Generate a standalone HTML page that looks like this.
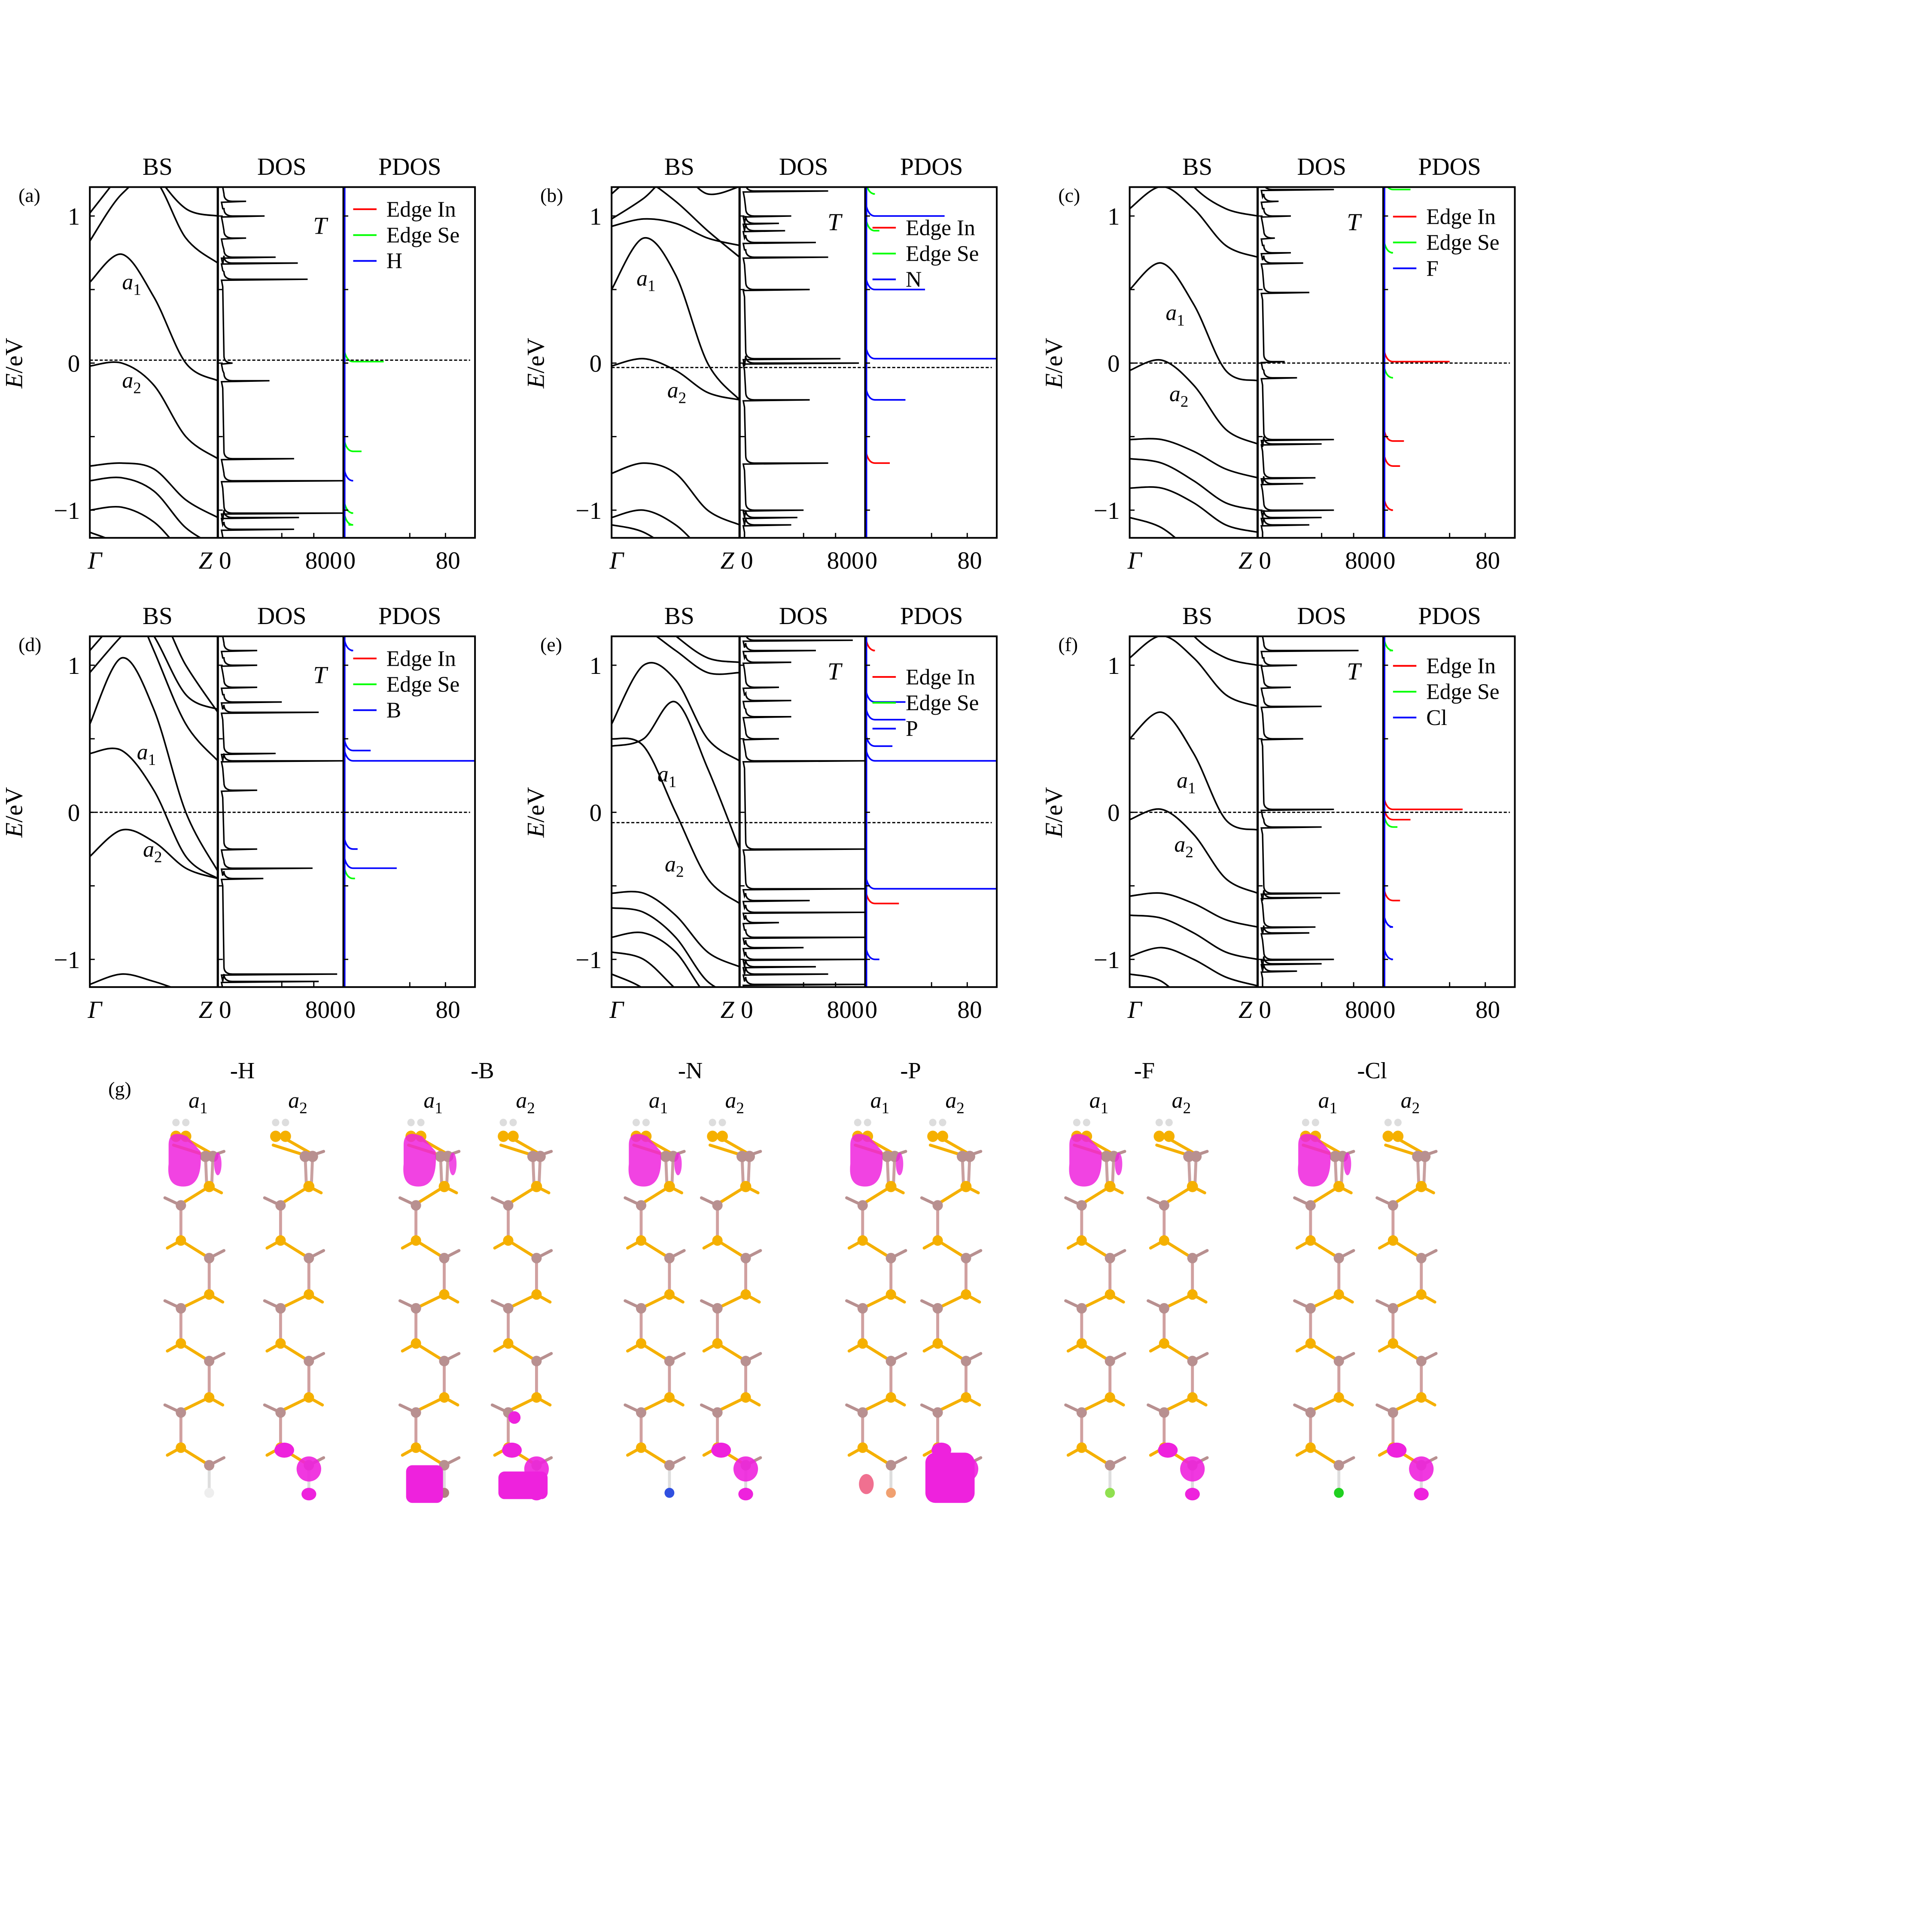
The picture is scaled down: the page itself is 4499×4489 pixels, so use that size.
<!DOCTYPE html>
<html><head><meta charset="utf-8"><style>
html,body{margin:0;padding:0;background:#fff;}
svg{display:block;}
text{font-family:"Liberation Serif",serif;}
</style></head><body>
<svg id="s" xmlns="http://www.w3.org/2000/svg" width="4499" height="4489" viewBox="0 0 1570 1566.5">
<rect width="1570" height="1566.5" fill="#fff"/>
</svg>
<script>
const S=document.getElementById('s');const NS='http://www.w3.org/2000/svg';
let PAR=S;
function el(t,a,txt){const e=document.createElementNS(NS,t);for(const k in a)e.setAttribute(k,a[k]);if(txt!==undefined)e.textContent=txt;PAR.appendChild(e);return e;}
function txt(x,y,s,sz,o){o=o||{};const a={x:x,y:y,'font-size':sz,fill:'#000','text-anchor':o.a||'middle'};if(o.it)a['font-style']='italic';if(o.tr)a.transform=o.tr;return el('text',a,s);}
function sub(x,y,b,n,sz){const t=el('text',{x:x,y:y,'font-size':sz,'text-anchor':'middle','font-style':'italic'});t.textContent=b;const ts=document.createElementNS(NS,'tspan');ts.setAttribute('font-style','normal');ts.setAttribute('font-size',sz*0.72);ts.setAttribute('dy',sz*0.25);ts.textContent=n;t.appendChild(ts);}
function cr(pts){let d='M'+pts[0][0]+','+pts[0][1];for(let i=0;i<pts.length-1;i++){const p0=pts[Math.max(0,i-1)],p1=pts[i],p2=pts[i+1],p3=pts[Math.min(pts.length-1,i+2)];const c1=[p1[0]+(p2[0]-p0[0])/6,p1[1]+(p2[1]-p0[1])/6],c2=[p2[0]-(p3[0]-p1[0])/6,p2[1]-(p3[1]-p1[1])/6];d+=`C${c1[0]},${c1[1]} ${c2[0]},${c2[1]} ${p2[0]},${p2[1]}`;}return d;}
const P=[
{x:73,y:152,lab:'(a)',X:'H',T:[260,190],leg:170,ef:0.02,
 bands:[[1.02,1.3,1.6,1.6,1.6],[0.83,1.15,1.25,0.85,0.68],[1.7,1.6,1.3,1.05,1.0],[0.55,0.74,0.45,0.0,-0.12],[-0.02,0.0,-0.15,-0.5,-0.65],[-0.7,-0.68,-0.72,-0.93,-1.05],[-0.8,-0.78,-0.87,-1.12,-1.25],[-1.0,-0.98,-1.08,-1.3,-1.4],[-1.15,-1.25,-1.5,-1.6,-1.6]],
 a1:[107,235],a2:[107,315],
 dos:[[1.1,.21],[1.0,.36],[.85,.21],[.72,.45],[.68,.63],[.57,.71],[0,.1],[-.12,.4],[-.65,.6],[-.8,1.0],[-1.02,1.0],[-1.05,.64],[-1.13,.6]],
 pd:[['#0f0',0.01,.3],['#0f0',-.6,.13],['#00f',-.8,.06],['#0f0',-1.02,.05],['#0f0',-1.1,.03]]},
{x:497,y:152,lab:'(b)',X:'N',T:[678,187],leg:185,ef:-0.03,
 bands:[[1.15,1.35,1.6,1.6,1.6],[0.98,1.12,1.3,1.15,1.2],[0.93,0.98,0.95,0.85,0.8],[1.3,1.25,1.1,0.9,0.72],[0.5,0.85,0.6,0.0,-0.25],[-0.02,0.03,-0.05,-0.2,-0.25],[-0.75,-0.68,-0.75,-1.0,-1.1],[-1.05,-1.0,-1.1,-1.3,-1.4],[-1.1,-1.15,-1.3,-1.5,-1.6]],
 a1:[525,232],a2:[550,323],
 dos:[[1.17,.7],[1.0,.4],[.95,.3],[.9,.35],[.82,.6],[.72,.7],[.5,.55],[0.03,.8],[0,.95],[-.25,.55],[-.68,.7],[-1.0,.5],[-1.05,.45],[-1.1,.4]],
 pd:[['#00f',1.0,.6],['#00f',.5,.45],['#00f',.03,1.0],['#00f',-.25,.3],['#f00',-.68,.18],['#0f0',.9,.1],['#0f0',1.15,.05]]},
{x:918,y:152,lab:'(c)',X:'F',T:[1100,187],leg:176,ef:0,
 bands:[[1.05,1.2,1.05,0.8,0.72],[1.6,1.5,1.2,1.05,1.0],[0.5,0.68,0.4,-0.05,-0.12],[-0.05,0.02,-0.15,-0.45,-0.55],[-0.52,-0.52,-0.6,-0.72,-0.78],[-0.65,-0.68,-0.8,-0.95,-1.0],[-0.85,-0.85,-0.95,-1.1,-1.15],[-1.05,-1.12,-1.3,-1.5,-1.6]],
 a1:[955,260],a2:[958,326],
 dos:[[1.18,.6],[1.1,.15],[1.0,.25],[.85,.12],[.75,.25],[.68,.35],[.48,.4],[0.01,.2],[-.1,.3],[-.52,.6],[-.55,.5],[-.78,.45],[-.82,.35],[-1.0,.6],[-1.05,.5],[-1.1,.4]],
 pd:[['#f00',0.01,.5],['#f00',-.53,.15],['#f00',-.7,.12],['#0f0',-.1,.06],['#0f0',1.18,.2],['#0f0',.75,.05],['#f00',-1.0,.05]]},
{x:73,y:517,lab:'(d)',X:'B',T:[260,555],leg:535,ef:0,
 bands:[[1.1,1.35,1.6,1.6,1.6],[0.95,1.2,1.4,1.0,0.68],[0.6,1.05,0.7,0.0,-0.4],[0.4,0.42,0.15,-0.3,-0.45],[-0.3,-0.12,-0.2,-0.38,-0.45],[1.7,1.5,1.2,0.8,0.7],[1.9,1.6,1.1,0.6,0.35],[-1.17,-1.1,-1.15,-1.22,-1.25]],
 a1:[119,617],a2:[124,696],
 dos:[[1.1,.3],[1.0,.3],[.85,.3],[.75,.5],[.68,.8],[.4,.45],[.35,1.0],[.15,.3],[-.25,.3],[-.38,.75],[-.45,.35],[-1.1,.95],[-1.15,.8]],
 pd:[['#00f',.35,1.0],['#00f',.42,.2],['#00f',-.38,.4],['#00f',-.25,.1],['#0f0',-.45,.08],['#00f',1.1,.05]]},
{x:497,y:517,lab:'(e)',X:'P',T:[678,552],leg:550,ef:-0.07,
 bands:[[0.6,1.0,0.9,0.5,0.35],[0.45,0.5,0.75,0.3,-0.25],[0.5,0.45,0.0,-0.45,-0.62],[1.3,1.25,1.1,0.95,0.95],[1.6,1.4,1.2,1.05,1.02],[-0.55,-0.55,-0.7,-0.95,-1.05],[-0.65,-0.68,-0.85,-1.15,-1.25],[-0.85,-0.82,-0.95,-1.25,-1.35],[-0.95,-1.0,-1.2,-1.4,-1.5],[-1.1,-1.2,-1.4,-1.6,-1.6]],
 a1:[542,635],a2:[548,708],
 dos:[[1.17,.9],[1.1,.6],[1.02,.4],[.85,.3],[.76,.4],[.65,.4],[.5,.3],[.35,1.0],[-.25,1.0],[-.52,1.0],[-.6,.55],[-.68,1.0],[-.75,.3],[-.85,1.0],[-.92,.5],[-1.0,1.0],[-1.05,.6],[-1.1,.7],[-1.17,1.0]],
 pd:[['#00f',.35,1.0],['#00f',-.52,1.0],['#f00',-.62,.25],['#00f',.75,.3],['#00f',.63,.3],['#00f',.45,.2],['#f00',1.1,.05],['#00f',-1.0,.1]]},
{x:918,y:517,lab:'(f)',X:'Cl',T:[1100,552],leg:541,ef:0,
 bands:[[1.05,1.2,1.05,0.8,0.72],[1.6,1.5,1.2,1.05,1.0],[0.5,0.68,0.4,-0.05,-0.12],[-0.05,0.02,-0.15,-0.45,-0.55],[-0.57,-0.55,-0.62,-0.73,-0.78],[-0.7,-0.72,-0.82,-0.95,-1.0],[-0.98,-0.92,-1.0,-1.12,-1.18],[-1.1,-1.15,-1.35,-1.5,-1.6]],
 a1:[964,640],a2:[962,692],
 dos:[[1.1,.8],[1.0,.3],[.85,.25],[.72,.5],[.5,.35],[0.02,.6],[-.1,.5],[-.55,.65],[-.58,.5],[-.78,.45],[-.82,.4],[-1.0,.6],[-1.03,.5],[-1.08,.3]],
 pd:[['#f00',0.02,.6],['#f00',-.05,.2],['#0f0',-.1,.1],['#f00',-.6,.12],['#00f',-.78,.04],['#00f',-1.0,.05],['#0f0',1.1,.04]]}
];
const H=285;
P.forEach((p,i)=>{
 const x0=p.x,y0=p.y,xb=x0+104,xd=xb+102,xe=x0+313;
 const Y=e=>y0+143-e*119.5;
 const cid='c'+i;
 const cp=el('clipPath',{id:cid});const r=document.createElementNS(NS,'rect');r.setAttribute('x',x0);r.setAttribute('y',y0);r.setAttribute('width',313);r.setAttribute('height',H);cp.appendChild(r);
 const g=el('g',{'clip-path':`url(#${cid})`});
 function add(t,a){const e=document.createElementNS(NS,t);for(const k in a)e.setAttribute(k,a[k]);g.appendChild(e);return e;}
 p.bands.forEach(b=>{const pts=b.map((e,j)=>[x0+j*26,Y(e)]);add('path',{d:cr(pts),fill:'none',stroke:'#000','stroke-width':1.3});});
 let d='M'+(xb+4)+','+y0;
 const sp=p.dos.slice().sort((a,b)=>b[0]-a[0]);
 sp.forEach(s=>{const y=Y(s[0]);d+=` L${xb+5},${y-6} Q${xb+5},${y} ${xb+12},${y} L${xb+2+s[1]*100},${y} L${xb+3},${y+0.8} L${xb+4},${y+6}`;});
 d+=` L${xb+4},${y0+H}`;
 add('path',{d:d,fill:'none',stroke:'#000','stroke-width':1.2});
 p.pd.forEach(s=>{const y=Y(s[1]);add('path',{d:`M${xd+1},${y-8} Q${xd+3},${y} ${xd+8},${y} L${xd+1+s[2]*106},${y}`,fill:'none',stroke:s[0],'stroke-width':1.3});});
 add('line',{x1:xd+1,y1:y0,x2:xd+1,y2:y0+H,stroke:'#00f','stroke-width':1.5});
 add('line',{x1:x0,y1:Y(p.ef),x2:xe-4,y2:Y(p.ef),stroke:'#000','stroke-width':1,'stroke-dasharray':'2.5,1.5'});
 el('rect',{x:x0,y:y0,width:313,height:H,fill:'none',stroke:'#000','stroke-width':1.4});
 el('line',{x1:xb,y1:y0,x2:xb,y2:y0+H,stroke:'#000','stroke-width':1.8});
 el('line',{x1:xd,y1:y0,x2:xd,y2:y0+H,stroke:'#000','stroke-width':1.4});
 [-1,-0.5,0,0.5,1].forEach(e=>{[x0,xb,xd].forEach(xx=>el('line',{x1:xx,y1:Y(e),x2:xx+4,y2:Y(e),stroke:'#000','stroke-width':1}));});
 [xb+52,xb+78,xd+54,xd+83].forEach(xx=>el('line',{x1:xx,y1:y0+H,x2:xx,y2:y0+H-4,stroke:'#000','stroke-width':1}));
 const fs=20;
 txt(x0+55,y0-10,'BS',fs);txt(xb+52,y0-10,'DOS',fs);txt(xd+54,y0-10,'PDOS',fs);
 txt(x0-8,Y(1)+7,'1',fs,{a:'end'});txt(x0-8,Y(0)+7,'0',fs,{a:'end'});txt(x0-8,Y(-1)+7,'\u22121',fs,{a:'end'});
 txt(x0-58,y0+12,p.lab,16,{a:'start'});
 const yl=y0+H+25;
 txt(x0+4,yl,'\u0393',fs,{it:1});txt(xb-10,yl,'Z',fs,{it:1});txt(xb+6,yl,'0',fs);txt(xd-16,yl,'800',fs);txt(xd+5,yl,'0',fs);txt(xd+85,yl,'80',fs);
 const e=el('text',{'font-size':fs,'text-anchor':'middle',transform:`translate(${x0-55},${Y(0)}) rotate(-90)`});e.innerHTML='<tspan font-style="italic">E</tspan>/eV';
 txt(p.T[0],p.T[1],'T',20,{it:1});
 sub(p.a1[0],p.a1[1],'a','1',18);sub(p.a2[0],p.a2[1],'a','2',18);
 const lx=(i==1||i==4)?xd+6:xd+8;
 [['#f00','Edge In'],['#0f0','Edge Se'],['#00f',p.X]].forEach((l,k)=>{const ly=p.leg+k*21;el('line',{x1:lx,y1:ly,x2:lx+19,y2:ly,stroke:l[0],'stroke-width':1.4});txt(lx+27,ly+6,l[1],18,{a:'start'});});
});
txt(88,890,'(g)',16,{a:'start'});
const G=[['-H',197,[147,228],'#eee'],['-B',392,[338,413],'#b08080'],['-N',561,[521,583],'#3050e0'],['-P',740,[701,762],'#f0a070'],['-F',930,[879,946],'#90e050'],['-Cl',1115,[1065,1132],'#20d020']];
G.forEach(g=>{txt(g[1],876,g[0],19);sub(g[2][0]+14,900,'a','1',18);sub(g[2][1]+14,900,'a','2',18);});
PAR=el('g',{transform:'translate(0,910) scale(1,1.02) translate(0,-905)'});
const IN='#b89090',SE='#f5b000',PK='#ee22dd';
function chain(L,endc){
 const R=L+23;
 function bond(x1,y1,x2,y2,c){el('line',{x1:x1,y1:y1,x2:x2,y2:y2,stroke:c,'stroke-width':2.4,'stroke-linecap':'round'});}
 bond(L-6,925,R,934,SE);bond(L+4,920,R+6,934,SE);bond(R-3,934,R-2,958,'#c9a0a0');bond(R+3,934,R+2,958,'#c9a0a0');
 bond(R,958,L,972,SE);bond(R,958,R+10,963,SE);bond(R,934,R+12,930,IN);
 const ys=[973,1055,1138];
 ys.forEach((y,k)=>{
  bond(L,y,L,y+28,'#d0a0a0');bond(L,y,L-13,y-6,IN);bond(L,y+28,R,y+42,SE);bond(L,y+28,L-11,y+34,SE);
  bond(R,y+42,R+12,y+36,IN);
  if(k<2){bond(R,y+42,R,y+71,'#d0a0a0');bond(R,y+71,R+11,y+77,SE);bond(R,y+71,L,y+82,SE);}
 });
 bond(R,1181,R,1201,'#ddd');
 ys.forEach((y,k)=>{el('circle',{cx:L,cy:y,r:4.2,fill:IN});el('circle',{cx:L,cy:y+28,r:4.2,fill:SE});el('circle',{cx:R,cy:y+42,r:4.2,fill:IN});if(k<2)el('circle',{cx:R,cy:y+71,r:4.2,fill:SE});});
 el('circle',{cx:R,cy:958,r:4.5,fill:SE});el('circle',{cx:R-3,cy:934,r:4.5,fill:IN});el('circle',{cx:R+3,cy:934,r:4.5,fill:IN});
 el('circle',{cx:L-4,cy:918,r:4.5,fill:SE});el('circle',{cx:L+4,cy:918,r:4.5,fill:SE});
 el('circle',{cx:L-4,cy:907,r:3,fill:'#ddd'});el('circle',{cx:L+4,cy:907,r:3,fill:'#ddd'});
 el('circle',{cx:R,cy:1202,r:4,fill:endc});
}
G.forEach((g,i)=>{
 chain(g[2][0],g[3]);chain(g[2][1],g[3]);
 const L1=g[2][0],L2=g[2][1];
 el('path',{d:`M${L1-10},${925} Q${L1-10},${912} ${L1+5},${918} L${L1+16},${930} Q${L1+18},${958} ${L1+2},${958} Q${L1-12},${958} ${L1-10},${940} Z`,fill:PK,opacity:0.85});
 el('ellipse',{cx:L1+30,cy:940,rx:3,ry:9,fill:PK,opacity:0.8});
 el('ellipse',{cx:L2+3,cy:1168,rx:8,ry:6,fill:PK});
 el('ellipse',{cx:L2+23,cy:1183,rx:10,ry:10,fill:PK,opacity:0.9});
 el('ellipse',{cx:L2+23,cy:1203,rx:6,ry:5,fill:PK});
 if(i==1){el('rect',{x:L1-8,y:1180,width:30,height:30,fill:PK,rx:5});el('rect',{x:L2-8,y:1185,width:40,height:22,fill:PK,rx:5});el('ellipse',{cx:L2+5,cy:1142,rx:5,ry:5,fill:PK});}
 if(i==3){el('ellipse',{cx:L1+3,cy:1195,rx:6,ry:8,fill:'#f07090'});el('rect',{x:L2-10,y:1170,width:40,height:40,fill:PK,rx:8});}
});
</script>
</body></html>
